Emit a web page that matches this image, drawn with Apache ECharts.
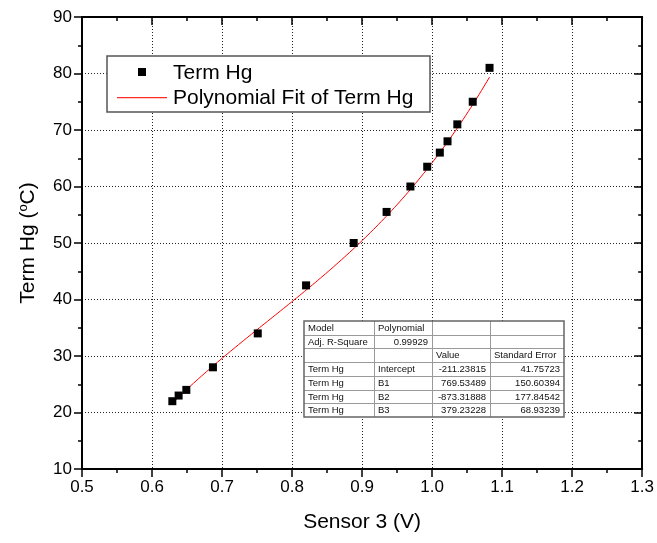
<!DOCTYPE html>
<html>
<head>
<meta charset="utf-8">
<script src="https://cdn.jsdelivr.net/npm/echarts@6/dist/echarts.min.js"></script>
<style>
  html, body { margin: 0; padding: 0; background: #fff; }
  #chart { width: 657px; height: 543px; }
</style>
</head>
<body>
<div id="chart"></div>
<script>
// Measured thermometer readings against sensor 3 voltage
const sensorVolts = [0.629, 0.638, 0.649, 0.687, 0.751, 0.820, 0.888, 0.935, 0.969, 0.993, 1.011, 1.022, 1.036, 1.058, 1.082];
const termHg = [22, 23, 24, 28, 34, 42.5, 50, 55.5, 60, 63.5, 66, 68, 71, 75, 81];

// Cubic polynomial fit results (Intercept, B1, B2, B3)
const fitParamNames = ['Intercept', 'B1', 'B2', 'B3'];
const fitValues = [-211.23815, 769.53489, -873.31888, 379.23228];
const fitStdErrors = [41.75723, 150.60394, 177.84542, 68.93239];
const adjRSquare = '0.99929';
const modelName = 'Polynomial';
const seriesName = 'Term Hg';
const fitName = 'Polynomial Fit of Term Hg';

const FONT = '"Liberation Sans", Arial, sans-serif';

// Fit curve evaluated from the reported coefficients over the measured range
function fitAt(x) {
  return fitValues[0] + fitValues[1] * x + fitValues[2] * x * x + fitValues[3] * x * x * x;
}
const fitCurve = [];
const xLo = Math.min(...sensorVolts), xHi = Math.max(...sensorVolts);
const steps = 120;
for (let i = 0; i <= steps; i++) {
  const x = xLo + (xHi - xLo) * i / steps;
  fitCurve.push([x, fitAt(x)]);
}

const chart = echarts.init(document.getElementById('chart'), null, { renderer: 'canvas' });

const gridL = 82, gridR = 11, gridT = 17, gridB = 74;

const axisLineStyle = { color: '#000', width: 2 };
const gridLine = { show: true, lineStyle: { color: '#222', width: 1, type: [1, 2] } };

// ---- Parameter table (graphic overlay) ----
const colX = [304, 374, 432, 490, 564];
const rowY0 = 321, rowH = 13.72;
const tableRows = [
  ['Model', modelName, '', ''],
  ['Adj. R-Square', adjRSquare, '', ''],
  ['', '', 'Value', 'Standard Error']
];
fitParamNames.forEach((p, i) => {
  tableRows.push([seriesName, p, fitValues[i].toFixed(5), fitStdErrors[i].toFixed(5)]);
});

const tableEls = [];
const tableW = colX[4] - colX[0], tableH = rowH * tableRows.length;
tableEls.push({ type: 'rect', shape: { x: colX[0], y: rowY0, width: tableW, height: tableH },
  style: { fill: '#fff', stroke: null }, z: 100 });
for (let r = 1; r < tableRows.length; r++) {
  const y = Math.round(rowY0 + r * rowH) + 0.5;
  tableEls.push({ type: 'line', shape: { x1: colX[0], y1: y, x2: colX[4], y2: y },
    style: { stroke: '#9a9a9a', lineWidth: 1 }, z: 101 });
}
for (let c = 1; c < 4; c++) {
  tableEls.push({ type: 'line', shape: { x1: colX[c] + 0.5, y1: rowY0, x2: colX[c] + 0.5, y2: rowY0 + tableH },
    style: { stroke: '#9a9a9a', lineWidth: 1 }, z: 101 });
}
tableEls.push({ type: 'rect', shape: { x: colX[0], y: rowY0, width: tableW, height: tableH },
  style: { fill: null, stroke: '#666', lineWidth: 1.5 }, z: 102 });

tableRows.forEach((row, r) => {
  const cy = rowY0 + r * rowH + rowH / 2 + 0.5;
  row.forEach((txt, c) => {
    if (!txt) return;
    const numeric = /^-?\d/.test(txt);
    const left = !numeric;
    tableEls.push({
      type: 'text', z: 103,
      style: {
        text: txt, x: left ? colX[c] + 4 : colX[c + 1] - 4, y: cy,
        align: left ? 'left' : 'right', verticalAlign: 'middle',
        font: '9.5px ' + FONT, fill: '#111'
      }
    });
  });
});

// ---- Legend box (graphic overlay) ----
const legendEls = [
  { type: 'rect', shape: { x: 107, y: 56, width: 323, height: 56 },
    style: { fill: '#fff', stroke: '#555', lineWidth: 1.5 }, z: 100 },
  { type: 'rect', shape: { x: 138, y: 68, width: 8, height: 8 },
    style: { fill: '#000' }, z: 101 },
  { type: 'rect', shape: { x: 117, y: 97, width: 50, height: 1.3 },
    style: { fill: '#ff2a2a', stroke: null }, z: 101 },
  { type: 'text', z: 101, style: { text: seriesName, x: 173, y: 73, verticalAlign: 'middle',
      font: '21px ' + FONT, fill: '#000' } },
  { type: 'text', z: 101, style: { text: fitName, x: 173, y: 98, verticalAlign: 'middle',
      font: '21px ' + FONT, fill: '#000' } }
];

const option = {
  backgroundColor: '#fff',
  animation: false,
  grid: { left: gridL, right: gridR, top: gridT, bottom: gridB, containLabel: false },
  xAxis: [
    {
      type: 'value', position: 'bottom', min: 0.5, max: 1.3, interval: 0.1,
      name: 'Sensor 3 (V)', nameLocation: 'middle', nameGap: 43,
      nameTextStyle: { fontFamily: FONT, fontSize: 21, color: '#000' },
      axisLine: { show: true, onZero: false, lineStyle: axisLineStyle },
      axisTick: { show: true, inside: false, length: 8, lineStyle: { color: '#000', width: 1.5 } },
      minorTick: { show: true, splitNumber: 2, length: 4, lineStyle: { color: '#000', width: 1.5 } },
      axisLabel: { fontFamily: FONT, fontSize: 17, color: '#000', margin: 10,
        formatter: v => v.toFixed(1) },
      splitLine: gridLine
    },
    {
      type: 'value', position: 'top', min: 0.5, max: 1.3, interval: 0.1,
      axisLine: { show: true, onZero: false, lineStyle: axisLineStyle },
      axisTick: { show: true, inside: true, length: 8, lineStyle: { color: '#000', width: 1.5 } },
      minorTick: { show: true, splitNumber: 2, length: 4, lineStyle: { color: '#000', width: 1.5 } },
      axisLabel: { show: false },
      splitLine: { show: false }
    }
  ],
  yAxis: [
    {
      type: 'value', position: 'left', min: 10, max: 90, interval: 10,
      name: 'Term Hg ({sup|o}C)', nameLocation: 'middle', nameGap: 42,
      nameTextStyle: {
        fontFamily: FONT, fontSize: 21, color: '#000', lineHeight: 24,
        rich: { sup: { fontFamily: FONT, fontSize: 13, color: '#000', lineHeight: 13,
          verticalAlign: 'bottom', padding: [0, 0, 10, 0] } }
      },
      axisLine: { show: true, onZero: false, lineStyle: axisLineStyle },
      axisTick: { show: true, inside: false, length: 8, lineStyle: { color: '#000', width: 1.5 } },
      minorTick: { show: true, splitNumber: 2, length: 4, lineStyle: { color: '#000', width: 1.5 } },
      axisLabel: { fontFamily: FONT, fontSize: 17, color: '#000', margin: 10 },
      splitLine: gridLine
    },
    {
      type: 'value', position: 'right', min: 10, max: 90, interval: 10,
      axisLine: { show: true, onZero: false, lineStyle: axisLineStyle },
      axisTick: { show: true, inside: true, length: 8, lineStyle: { color: '#000', width: 1.5 } },
      minorTick: { show: true, splitNumber: 2, length: 4, lineStyle: { color: '#000', width: 1.5 } },
      axisLabel: { show: false },
      splitLine: { show: false }
    }
  ],
  series: [
    {
      name: fitName, type: 'line', xAxisIndex: 0, yAxisIndex: 0,
      data: fitCurve, showSymbol: false, symbol: 'none', smooth: false,
      lineStyle: { color: '#ff0000', width: 1 }, z: 3
    },
    {
      name: seriesName, type: 'scatter', xAxisIndex: 0, yAxisIndex: 0,
      data: sensorVolts.map((x, i) => [x, termHg[i]]),
      symbol: 'rect', symbolSize: 8,
      itemStyle: { color: '#000', borderWidth: 0, opacity: 1 }, z: 4
    }
  ],
  graphic: legendEls.concat(tableEls)
};

chart.setOption(option);
</script>
</body>
</html>
